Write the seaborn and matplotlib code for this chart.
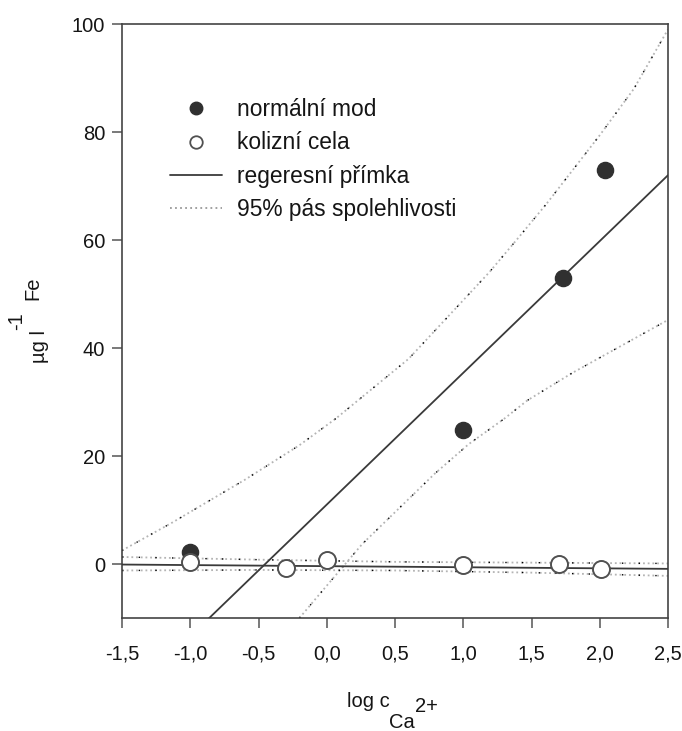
import numpy as np
import pandas as pd
import matplotlib
matplotlib.use("Agg")
import matplotlib.pyplot as plt
import seaborn as sns
from matplotlib.lines import Line2D

# Measured Fe signal vs. log Ca2+ concentration
normal_x = [-1.0, 1.0, 1.73, 2.04]
normal_y = [2.2, 24.8, 53.0, 73.0]
collision_x = [-1.0, -0.30, 0.0, 1.0, 1.70, 2.01]
collision_y = [0.3, -0.7, 0.7, -0.2, 0.0, -1.0]

# Regression lines: (slope, intercept)
normal_fit = (24.4, 11.0)
collision_fit = (-0.2, -0.4)

# 95 % confidence bands
normal_upper_x = [-1.5, -1.13, -0.6, -0.2, 0.07, 0.6, 1.19, 1.39, 1.61, 2.0, 2.25, 2.5]
normal_upper_y = [2.5, 7.7, 15.6, 22.0, 27.0, 38.0, 54.0, 60.0, 66.7, 79.4, 88.0, 99.0]
normal_lower_x = [-0.2, -0.07, 0.26, 0.79, 1.04, 1.3, 1.47, 1.8, 2.25, 2.5]
normal_lower_y = [-10.0, -6.1, 3.7, 16.7, 22.2, 26.9, 30.3, 35.4, 41.7, 45.2]
collision_upper_x = [-1.5, -0.5, 0.5, 1.5, 2.5]
collision_upper_y = [1.3, 0.8, 0.4, 0.25, 0.1]
collision_lower_x = [-1.5, -0.5, 0.5, 1.5, 2.5]
collision_lower_y = [-1.2, -1.1, -1.2, -1.6, -2.2]

x_ticks = [-1.5, -1.0, -0.5, 0.0, 0.5, 1.0, 1.5, 2.0, 2.5]
x_tick_labels = ["-1,5", "-1,0", "-0,5", "0,0", "0,5", "1,0", "1,5", "2,0", "2,5"]
y_ticks = [0, 20, 40, 60, 80, 100]
y_tick_labels = ["0", "20", "40", "60", "80", "100"]

legend_labels = ["normální mod", "kolizní cela", "regeresní přímka", "95% pás spolehlivosti"]

sns.set_theme(style="ticks")
plt.rcParams["font.family"] = ["Liberation Sans", "DejaVu Sans"]

W, H = 682, 731
fig = plt.figure(figsize=(W / 100, H / 100), dpi=100)
AX_L, AX_R, AX_T, AX_B = 122, 668, 24, 618
ax = fig.add_axes([AX_L / W, 1 - AX_B / H, (AX_R - AX_L) / W, (AX_B - AX_T) / H])


def px(x, y):
    """Pixel position (from top-left) to figure fraction."""
    return x / W, 1 - y / H


XMIN, XMAX, YMIN, YMAX = -1.5, 2.5, -10, 100
ax.set_xlim(XMIN, XMAX)
ax.set_ylim(YMIN, YMAX)

band_gray = "#b4b4b4"
line_col = "#3a3a3a"
text_col = "#151515"


def draw_band(bx, by):
    df = pd.DataFrame({"x": bx, "y": by})
    sns.lineplot(data=df, x="x", y="y", ax=ax, color=band_gray, lw=1.3,
                 linestyle=(0, (1.0, 1.6)), sort=False, zorder=2)
    sns.lineplot(data=df, x="x", y="y", ax=ax, color="black", lw=1.0,
                 linestyle=(0, (1.0, 11.0)), sort=False, zorder=2.1)


def draw_fit(fit):
    slope, intercept = fit
    xs = np.array([XMIN, XMAX])
    df = pd.DataFrame({"x": xs, "y": slope * xs + intercept})
    sns.lineplot(data=df, x="x", y="y", ax=ax, color=line_col, lw=1.3, zorder=3)


draw_band(normal_upper_x, normal_upper_y)
draw_band(normal_lower_x, normal_lower_y)
draw_band(collision_upper_x, collision_upper_y)
draw_band(collision_lower_x, collision_lower_y)
draw_fit(normal_fit)
draw_fit(collision_fit)

sns.scatterplot(x=normal_x, y=normal_y, ax=ax, s=135, color="#303030",
                edgecolor="#303030", linewidth=1, zorder=5)
sns.scatterplot(x=collision_x, y=collision_y, ax=ax, s=150, color="white",
                edgecolor="#505050", linewidth=1.4, zorder=6)

for sp in ax.spines.values():
    sp.set_visible(True)
    sp.set_color("#444444")
    sp.set_linewidth(1.2)

ax.set_xticks(x_ticks)
ax.set_xticklabels(x_tick_labels)
ax.set_yticks(y_ticks)
ax.set_yticklabels(y_tick_labels)
ax.tick_params(axis="both", direction="out", length=7, width=1.1,
               color="#555555", labelsize=14.5, labelcolor=text_col)
ax.tick_params(axis="y", pad=5)
ax.tick_params(axis="x", pad=12)
ax.set_xlabel("")
ax.set_ylabel("")

# x axis title: log c with subscript Ca and superscript 2+
fs_lab = 14.5
fig.text(*px(347, 707), "log c", fontsize=fs_lab, color=text_col, va="baseline", ha="left")
fig.text(*px(389, 728), "Ca", fontsize=fs_lab, color=text_col, va="baseline", ha="left")
fig.text(*px(415, 712), "2+", fontsize=fs_lab, color=text_col, va="baseline", ha="left")

# y axis title: µg l^-1 Fe, reading bottom to top
for (tx, ty), s in [((45, 363), "µg l"), ((22, 330), "-1"), ((38, 300), "Fe")]:
    fig.text(*px(tx, ty), s, fontsize=fs_lab, color=text_col, rotation=90,
             rotation_mode="anchor", ha="left", va="baseline")

handles = [
    Line2D([], [], marker="o", linestyle="none", markersize=9,
           markerfacecolor="#303030", markeredgecolor="#303030"),
    Line2D([], [], marker="o", linestyle="none", markersize=9,
           markerfacecolor="white", markeredgecolor="#505050", markeredgewidth=1.3),
    Line2D([], [], color=line_col, lw=1.3),
    Line2D([], [], color="#999999", lw=1.3, linestyle=(0, (1.0, 1.8))),
]
leg_x, leg_y = px(170, 98)
ax.legend(handles, legend_labels, loc="upper left",
          bbox_to_anchor=(leg_x, leg_y), bbox_transform=fig.transFigure,
          frameon=False, fontsize=16.4, handlelength=2.28, handletextpad=0.66,
          labelspacing=0.46, borderpad=0, borderaxespad=0)
for t in ax.get_legend().get_texts():
    t.set_color(text_col)

fig.savefig("out.png", dpi=100, facecolor="white")
